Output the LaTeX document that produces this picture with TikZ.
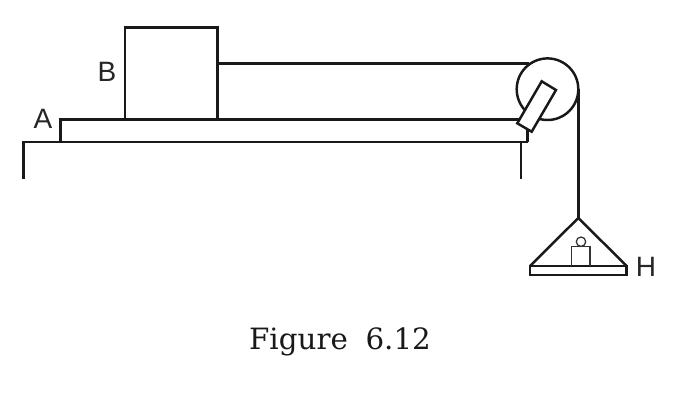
\documentclass[tikz,border=0pt]{standalone}
\usepackage{fontspec}
\setmainfont{Liberation Sans}
\newfontfamily\capfont[WordSpace=1.9]{DejaVu Serif}
\tikzset{
  ln/.style={draw=black!90,line width=1.85pt,line join=miter},
  thin ln/.style={draw=black!80,line width=0.95pt},
  lab/.style={font=\fontsize{21}{21}\selectfont,text=black!85,inner sep=0pt,anchor=center},
}
\begin{document}
\begin{tikzpicture}[x=0.75pt,y=-0.75pt]
\useasboundingbox (0,0) rectangle (686,411);
\fill[white] (0,0) rectangle (686,411);
% strings and pulley
\coordinate (pc) at (547.5,89.2);
\draw[ln] (pc) circle (30.8);
\draw[ln] (125,27.3) rectangle (217.7,119.7);
\coordinate (sa) at (217.7,63.7);
\coordinate (sb) at (529,63.7);
\draw[ln] (sa) -- (sb);
\coordinate (sc) at (578.3,89.2);
\coordinate (apex) at (578.3,218);
\draw[ln] (sc) -- (apex);
% plate A
\coordinate (pa) at (60.3,142);
\coordinate (pb) at (60.3,119.7);
\coordinate (pd) at (522,119.7);
\draw[ln] (pa) -- (pb) -- (pd);
\coordinate (pe) at (527.7,130);
\coordinate (pf) at (527.7,142);
\draw[ln] (pe) -- (pf);
% table
\coordinate (t1) at (23.7,179);
\coordinate (t2) at (23.7,142);
\coordinate (t3) at (521,179);
\draw[ln] (t1) -- (t2) -- (pf);
\draw[ln] (521,142) -- (t3);
% bracket
\draw[ln,fill=white] (541.7,81.3) -- (556,90) -- (531.7,131.7) -- (517.3,123.3) -- cycle;
% pan
\coordinate (pl) at (530,266);
\coordinate (pr) at (626.7,266);
\draw[ln] (pl) -- (apex) -- (pr);
\draw[ln] (pl) rectangle (626.7,275);
\draw[thin ln] (571.7,266) -- (571.7,246.7) -- (590,246.7) -- (590,266);
\draw[thin ln] (581,241.7) circle (4.7);
% labels
\node[lab] (A) at (43,119) {A};
\node[lab] (B) at (107,72) {B};
\node[lab] (H) at (646,266.5) {H};
\node[inner sep=0pt,font=\capfont\fontsize{22}{22}\selectfont,text=black!90] (cap) at (340,341.5) {Figure 6.12};
\end{tikzpicture}
\end{document}
